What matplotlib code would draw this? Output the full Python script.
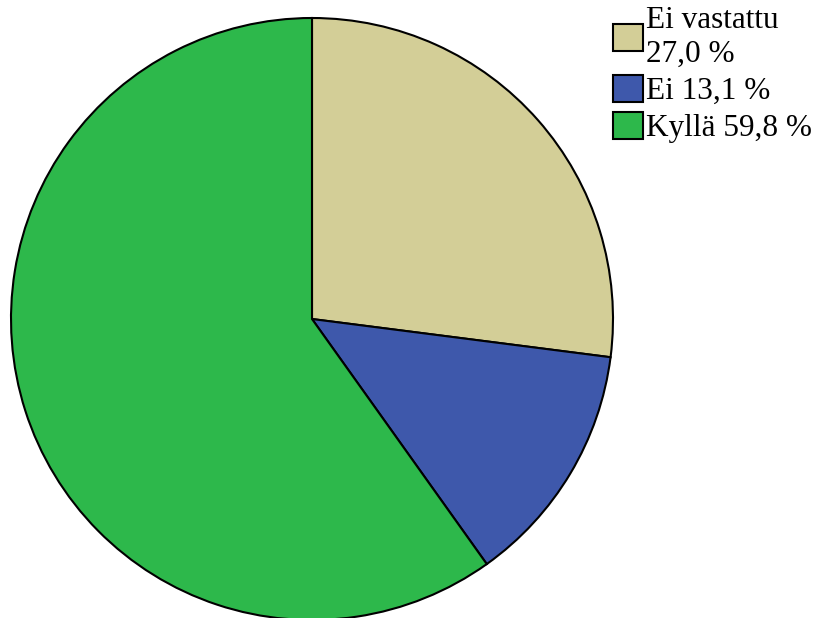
import matplotlib.pyplot as plt
from matplotlib.patches import Patch

categories = ["Ei vastattu", "Ei", "Kyllä"]
values = [27.0, 13.1, 59.8]
colors = ["#D3CE97", "#3E58AB", "#2DB84B"]

plt.rcParams['font.family'] = ['Liberation Serif', 'DejaVu Serif']

fig = plt.figure(figsize=(8.18, 6.18), dpi=100)
ax = fig.add_axes([0, 0, 1, 1])

ax.pie(values, colors=colors, startangle=90, counterclock=False,
       center=(312, 299), radius=301, frame=True,
       wedgeprops=dict(edgecolor='black', linewidth=1.5))
ax.set_xlim(0, 818)
ax.set_ylim(0, 618)
ax.set_aspect('equal')
ax.axis('off')

def fmt(v):
    return ("%.1f" % v).replace('.', ',') + " %"

labels = [categories[0] + "\n" + fmt(values[0])] + \
         [c + " " + fmt(v) for c, v in zip(categories[1:], values[1:])]
handles = [Patch(facecolor=c, edgecolor='black', linewidth=1.5) for c in colors]

fig.legend(handles, labels, loc='upper left', bbox_to_anchor=(613 / 818, 1 - 6 / 618),
           frameon=False, fontsize=22.5, handlelength=0.95, handleheight=0.95,
           handletextpad=0.12, labelspacing=0.2, borderpad=0, borderaxespad=0)

fig.savefig("out.png", dpi=100)
